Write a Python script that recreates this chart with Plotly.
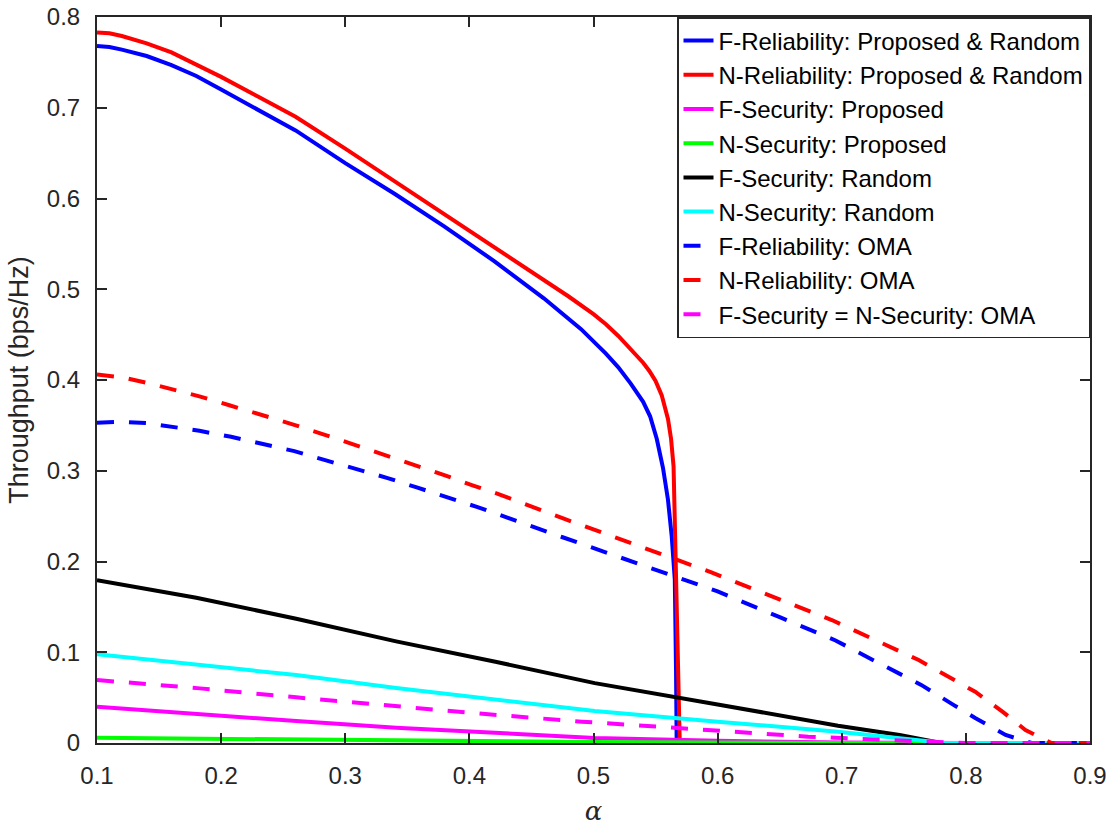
import plotly.graph_objects as go

# ---- Data ----
alpha_f_rel = [0.10, 0.11, 0.12, 0.13, 0.14, 0.16, 0.18, 0.20, 0.23, 0.26, 0.30, 0.34, 0.38,
               0.42, 0.46, 0.49, 0.51, 0.52, 0.53, 0.54, 0.5456, 0.551, 0.556, 0.560, 0.563,
               0.5655, 0.5665, 0.567, 0.90]
f_rel = [0.768, 0.767, 0.764, 0.761, 0.757, 0.747, 0.735, 0.720, 0.698, 0.675, 0.639, 0.605,
         0.569, 0.531, 0.490, 0.456, 0.429, 0.414, 0.396, 0.376, 0.360, 0.335, 0.303, 0.268,
         0.228, 0.180, 0.080, 0.0, 0.0]

alpha_n_rel = [0.10, 0.11, 0.12, 0.13, 0.14, 0.16, 0.18, 0.20, 0.23, 0.26, 0.30, 0.34, 0.38,
               0.42, 0.46, 0.48, 0.50, 0.51, 0.52, 0.53, 0.54, 0.545, 0.55, 0.555, 0.560,
               0.5625, 0.5645, 0.5695, 0.90]
n_rel = [0.783, 0.782, 0.779, 0.775, 0.771, 0.761, 0.748, 0.734, 0.712, 0.690, 0.655, 0.619,
         0.583, 0.547, 0.510, 0.492, 0.4725, 0.4615, 0.4485, 0.434, 0.419, 0.410, 0.399,
         0.383, 0.357, 0.335, 0.305, 0.0, 0.0]

alpha_f_sec_prop = [0.10, 0.18, 0.2605, 0.341, 0.421, 0.501, 0.60, 0.70, 0.80, 0.90]
f_sec_prop = [0.040, 0.0319, 0.0242, 0.0169, 0.0107, 0.0055, 0.0025, 0.0005, 0.0, 0.0]

alpha_n_sec_prop = [0.10, 0.30, 0.50, 0.70, 0.78, 0.90]
n_sec_prop = [0.0058, 0.0032, 0.0010, 0.0001, 0.0, 0.0]

alpha_f_sec_rand = [0.10, 0.18, 0.2605, 0.341, 0.421, 0.501, 0.60, 0.697, 0.7466, 0.78, 0.90]
f_sec_rand = [0.1795, 0.160, 0.137, 0.112, 0.0895, 0.066, 0.0425, 0.019, 0.0088, 0.0, 0.0]

alpha_n_sec_rand = [0.10, 0.18, 0.2605, 0.341, 0.421, 0.501, 0.60, 0.697, 0.783, 0.90]
n_sec_rand = [0.0977, 0.0867, 0.0749, 0.0605, 0.0474, 0.0352, 0.0235, 0.0125, 0.0, 0.0]

alpha_f_rel_oma = [0.10, 0.12, 0.14, 0.16, 0.1825, 0.208, 0.2334, 0.259, 0.2838, 0.3085,
                   0.3335, 0.3576, 0.382, 0.406, 0.4745, 0.54, 0.60, 0.65, 0.695, 0.73, 0.764,
                   0.79, 0.8075, 0.832, 0.853, 0.90]
f_rel_oma = [0.353, 0.354, 0.3525, 0.349, 0.344, 0.3374, 0.330, 0.3216, 0.3117, 0.3025,
             0.2922, 0.2816, 0.2713, 0.2602, 0.227, 0.196, 0.167, 0.1386, 0.113, 0.088, 0.064,
             0.042, 0.0275, 0.0088, 0.0, 0.0]

alpha_n_rel_oma = [0.10, 0.12, 0.14, 0.16, 0.1825, 0.2066, 0.231, 0.2556, 0.2805, 0.3047,
                   0.329, 0.3535, 0.378, 0.4025, 0.424, 0.4745, 0.54, 0.595, 0.692, 0.762,
                   0.8075, 0.83, 0.848, 0.869, 0.90]
n_rel_oma = [0.406, 0.403, 0.397, 0.390, 0.382, 0.3722, 0.3623, 0.352, 0.341, 0.330,
             0.319, 0.307, 0.296, 0.284, 0.274, 0.248, 0.2153, 0.188, 0.1355, 0.0914,
             0.0565, 0.034, 0.0143, 0.0, 0.0]

alpha_sec_oma = [0.10, 0.183, 0.2605, 0.337, 0.413, 0.4905, 0.597, 0.673, 0.736, 0.77, 0.80, 0.90]
sec_oma = [0.0694, 0.0602, 0.0503, 0.0407, 0.0319, 0.0235, 0.0143, 0.0070, 0.0033, 0.0015,
           0.0, 0.0]

x_ticks = [0.1, 0.2, 0.3, 0.4, 0.5, 0.6, 0.7, 0.8, 0.9]
y_ticks = [0, 0.1, 0.2, 0.3, 0.4, 0.5, 0.6, 0.7, 0.8]

names = [
    "F-Reliability: Proposed & Random",
    "N-Reliability: Proposed & Random",
    "F-Security: Proposed",
    "N-Security: Proposed",
    "F-Security: Random",
    "N-Security: Random",
    "F-Reliability: OMA",
    "N-Reliability: OMA",
    "F-Security = N-Security: OMA",
]

series = [
    (alpha_f_rel, f_rel, "#0000FF", "solid"),
    (alpha_n_rel, n_rel, "#FF0000", "solid"),
    (alpha_f_sec_prop, f_sec_prop, "#FF00FF", "solid"),
    (alpha_n_sec_prop, n_sec_prop, "#00FF00", "solid"),
    (alpha_f_sec_rand, f_sec_rand, "#000000", "solid"),
    (alpha_n_sec_rand, n_sec_rand, "#00FFFF", "solid"),
    (alpha_f_rel_oma, f_rel_oma, "#0000FF", "17px,15px"),
    (alpha_n_rel_oma, n_rel_oma, "#FF0000", "17px,15px"),
    (alpha_sec_oma, sec_oma, "#FF00FF", "17px,15px"),
]

fig = go.Figure()
for i, ((xs, ys, color, dash), name) in enumerate(zip(series, names)):
    fig.add_trace(go.Scatter(
        x=xs, y=ys, mode="lines", name=name, legendgroup=f"g{i}",
        line=dict(color=color, width=4, dash=dash),
    ))

axis_color = "#262626"
common_axis = dict(
    showline=True, linecolor=axis_color, linewidth=2, mirror="allticks",
    ticks="inside", ticklen=10, tickwidth=1.5, tickcolor=axis_color,
    showgrid=False, zeroline=False, automargin=False,
    tickfont=dict(family="Liberation Sans, Arial, sans-serif", size=24, color=axis_color),
    ticklabelstandoff=10,
)

fig.update_xaxes(range=[0.1, 0.9], tickvals=x_ticks, ticktext=[f"{v:g}" for v in x_ticks],
                 title=dict(text="<i>α</i>", font=dict(family="DejaVu Serif, serif", size=26,
                                                      color=axis_color), standoff=16),
                 **common_axis)
fig.update_yaxes(range=[0, 0.8], tickvals=y_ticks, ticktext=[f"{v:g}" for v in y_ticks],
                 title=dict(text="Throughput (bps/Hz)",
                            font=dict(family="Liberation Sans, Arial, sans-serif", size=27,
                                      color=axis_color), standoff=10),
                 **common_axis)

fig.update_layout(
    width=1109, height=826,
    margin=dict(l=97, r=19, t=17, b=83, autoexpand=False),
    paper_bgcolor="white", plot_bgcolor="white",
    font=dict(family="Liberation Sans, Arial, sans-serif", color=axis_color),
    legend=dict(
        x=1.0, xanchor="right", y=1.0, yanchor="top",
        bgcolor="white", bordercolor=axis_color, borderwidth=1.5,
        font=dict(family="Liberation Sans, Arial, sans-serif", size=24, color="#000000"),
        tracegroupgap=0,
    ),
)

fig.write_html("out.html")
